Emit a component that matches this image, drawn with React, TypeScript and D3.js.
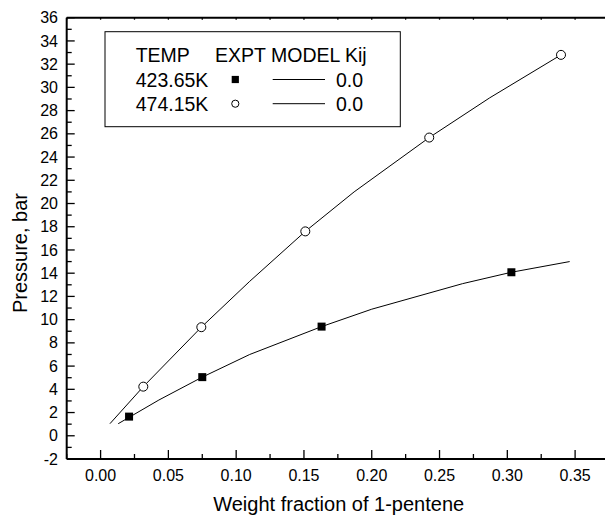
import React from "react";
import * as d3 from "d3";

const exptX423 = [0.021, 0.075, 0.163, 0.303];
const exptY423 = [1.65, 5.05, 9.4, 14.08];
const exptX474 = [0.0315, 0.0743, 0.151, 0.2424, 0.3396];
const exptY474 = [4.23, 9.35, 17.6, 25.68, 32.8];
const modelX423 = [0.013, 0.043, 0.075, 0.11, 0.163, 0.2, 0.267, 0.303, 0.346];
const modelY423 = [1.04, 3.08, 5.05, 7.0, 9.4, 10.9, 13.1, 14.08, 15.0];
const modelX474 = [0.0069, 0.0315, 0.0743, 0.11, 0.151, 0.187, 0.2424, 0.287, 0.3396];
const modelY474 = [1.04, 4.23, 9.35, 13.3, 17.6, 21.0, 25.68, 29.1, 32.8];
const xTicks = [0, 0.05, 0.1, 0.15, 0.2, 0.25, 0.3, 0.35];
const yTicks = [-2, 0, 2, 4, 6, 8, 10, 12, 14, 16, 18, 20, 22, 24, 26, 28, 30, 32, 34, 36];
const legendRows = [
  { temp: "423.65K", kij: "0.0", marker: "square" },
  { temp: "474.15K", kij: "0.0", marker: "circle" },
];

const W = 605;
const H = 518;
const FONT = "Arial, 'Liberation Sans', sans-serif";

export default function App() {
  const x = d3.scaleLinear().domain([-0.025, 0.375]).range([66.7, 609]);
  const y = d3.scaleLinear().domain([-2, 36]).range([459, 17.7]);
  const line = d3
    .line<[number, number]>()
    .x((d) => x(d[0]))
    .y((d) => y(d[1]));
  const m423 = modelX423.map((v, i) => [v, modelY423[i]] as [number, number]);
  const m474 = modelX474.map((v, i) => [v, modelY474[i]] as [number, number]);
  const minorX = d3.range(-0.025, 0.376, 0.025).map((v) => +v.toFixed(3));
  const minorY = d3.range(-2, 36.01, 1);
  const x0 = x(-0.025);
  const yb = y(-2);
  const yt = y(36);

  return (
    <svg
      width={W}
      height={H}
      style={{ position: "absolute", left: 0, top: 0, background: "#fff" }}
      fontFamily={FONT}
    >
      <rect x={0} y={0} width={W} height={H} fill="#fff" />
      {/* model lines */}
      <path d={line(m423) || ""} fill="none" stroke="#000" strokeWidth={1} />
      <path d={line(m474) || ""} fill="none" stroke="#000" strokeWidth={1} />
      {/* experimental points */}
      {exptX423.map((v, i) => (
        <rect
          key={"s" + i}
          x={x(v) - 4}
          y={y(exptY423[i]) - 4}
          width={8}
          height={8}
          fill="#000"
        />
      ))}
      {exptX474.map((v, i) => (
        <circle
          key={"c" + i}
          cx={x(v)}
          cy={y(exptY474[i])}
          r={4.5}
          fill="#fff"
          stroke="#000"
          strokeWidth={1}
        />
      ))}
      {/* axes */}
      <line x1={x0} x2={W} y1={yt} y2={yt} stroke="#000" strokeWidth={2} />
      <line x1={x0} x2={W} y1={yb} y2={yb} stroke="#000" strokeWidth={2} />
      <line x1={x0} x2={x0} y1={yt} y2={yb} stroke="#000" strokeWidth={2} />
      {minorX.map((v, i) => {
        const major = xTicks.some((t) => Math.abs(t - v) < 1e-6);
        return (
          <g key={"xt" + i}>
            <line
              x1={x(v)}
              x2={x(v)}
              y1={yb}
              y2={yb - (major ? 9 : 5)}
              stroke="#000"
              strokeWidth={1.3}
            />
            <line
              x1={x(v)}
              x2={x(v)}
              y1={yt}
              y2={yt + 2}
              stroke="#000"
              strokeWidth={1.3}
            />
          </g>
        );
      })}
      {minorY.map((v, i) => {
        const major = v % 2 === 0;
        return (
          <line
            key={"yt" + i}
            x1={x0}
            x2={x0 + (major ? 8 : 5)}
            y1={y(v)}
            y2={y(v)}
            stroke="#000"
            strokeWidth={1.3}
          />
        );
      })}
      {xTicks.map((t) => (
        <text
          key={"xl" + t}
          x={x(t)}
          y={481}
          fontSize={16}
          textAnchor="middle"
          fill="#000"
        >
          {t.toFixed(2)}
        </text>
      ))}
      {yTicks.map((t) => (
        <text
          key={"yl" + t}
          x={58}
          y={y(t)}
          dy="0.35em"
          fontSize={16}
          textAnchor="end"
          fill="#000"
        >
          {t}
        </text>
      ))}
      <text x={338.7} y={511} fontSize={20} textAnchor="middle" fill="#000">
        Weight fraction of 1-pentene
      </text>
      <text
        transform={`translate(27,253) rotate(-90)`}
        fontSize={20}
        textAnchor="middle"
        fill="#000"
      >
        Pressure, bar
      </text>
      {/* legend */}
      <rect
        x={105}
        y={31.7}
        width={295.3}
        height={95}
        fill="#fff"
        stroke="#000"
        strokeWidth={1}
      />
      <text x={135.7} y={62} fontSize={19.5} fill="#000">
        TEMP
      </text>
      <text x={215} y={62} fontSize={19.5} fill="#000">
        EXPT MODEL Kij
      </text>
      {legendRows.map((r, i) => {
        const by = 86.5 + i * 24.2;
        const cy = by - 7;
        return (
          <g key={"lg" + i}>
            <text x={135.7} y={by} fontSize={19.5} fill="#000">
              {r.temp}
            </text>
            {r.marker === "square" ? (
              <rect x={235.3 - 3.6} y={cy - 3.6} width={7.2} height={7.2} fill="#000" />
            ) : (
              <circle cx={235.3} cy={cy} r={3.6} fill="#fff" stroke="#000" strokeWidth={1} />
            )}
            <line x1={272.7} x2={325} y1={cy} y2={cy} stroke="#000" strokeWidth={1} />
            <text x={336} y={by} fontSize={19.5} fill="#000">
              {r.kij}
            </text>
          </g>
        );
      })}
    </svg>
  );
}
